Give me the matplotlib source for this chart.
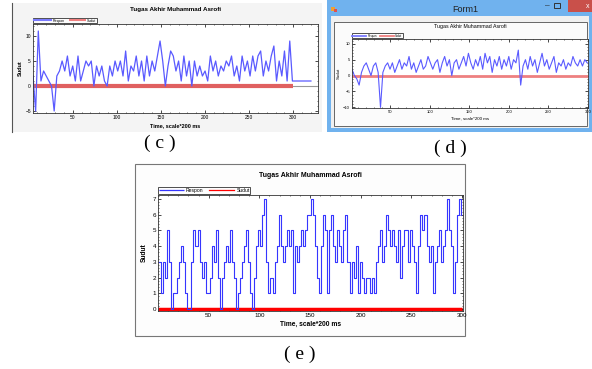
import matplotlib
matplotlib.use("Agg")
import matplotlib.pyplot as plt
import numpy as np
from matplotlib.patches import Rectangle
from matplotlib.ticker import AutoMinorLocator

W, H = 592, 369

TITLE = "Tugas Akhir Muhammad Asrofi"
XLABEL = "Time, scale*200 ms"
YLABEL = "Sudut"
LEGEND_LABELS = ["Respon", "Sudut"]

# panel (c): respon sampled every 3 steps from t=5, then flat tail
c_respon = [2, -5, 11, 1, 3, 2, 1, 0, -5, 2, 3, 5, 3, 6, 2, 4, 1, 6, 1, 3,
            5, 4, 5, 0, 4, 2, 4, 1, 0, 4, 2, 5, 3, 5, 2, 7, 1, 4, 3, 6,
            2, 5, 1, 6, 2, 5, 3, 6, 9, 5, 0, 4, 7, 6, 3, 5, 1, 6, 2, 5,
            0, 5, 2, 4, 2, 3, 1, 6, 3, 5, 2, 4, 3, 5, 4, 6, 2, 4, 1, 6,
            3, 5, 2, 6, 3, 6, 7, 2, 5, 3, 6, 8, 1, 5, 2, 7, 1, 9, 1]
c_tail_time = [320]
c_tail_value = [1]
c_sudut_end = 300

# panel (d): respon sampled every 3 steps from t=2
d_respon = [2, 0, -1, -3, 1, 3, 4, 2, 0, 3, 4, 1, -10, 1, 3, 4, 2, 4, 1, 3,
            5, 2, 4, 3, 6, 2, 4, 1, 3, 5, 2, 3, 6, 4, 2, 4, 5, 1, 4, 6,
            3, 5, 0, 4, 5, 2, 4, 6, 3, 7, 4, 2, 5, 3, 6, 2, 7, 4, 6, 1,
            5, 3, 6, 2, 5, 3, 6, 2, 5, 4, 8, -3, 3, 5, 2, 6, 3, 5, 1, 4,
            7, 3, 5, 2, 4, 6, 1, 4, 3, 5, 2, 4, 3, 6, 4, 3, 5, 3, 5, 4]

# panel (e): respon sampled every 2 steps from t=1
e_respon = [3, 1, 3, 2, 5, 3, 0, 1, 1, 2, 3, 4, 3, 1, 0, 0, 3, 5, 4, 5,
            3, 2, 3, 1, 1, 2, 4, 3, 5, 2, 0, 2, 3, 4, 3, 5, 3, 2, 0, 1,
            2, 3, 4, 5, 3, 1, 0, 2, 4, 5, 4, 6, 7, 3, 1, 2, 1, 3, 4, 6,
            4, 3, 4, 5, 4, 5, 1, 4, 3, 4, 5, 4, 5, 6, 6, 7, 6, 4, 2, 1,
            4, 6, 5, 1, 5, 6, 4, 3, 5, 4, 3, 5, 6, 3, 1, 3, 2, 4, 1, 3,
            2, 1, 2, 2, 1, 2, 1, 3, 4, 5, 3, 4, 6, 5, 4, 5, 4, 3, 5, 2,
            4, 5, 5, 3, 5, 4, 3, 1, 4, 6, 5, 6, 4, 3, 4, 1, 3, 4, 5, 3,
            4, 5, 7, 5, 4, 1, 3, 6, 7, 6]

c_time = np.arange(5, 5 + 3 * len(c_respon), 3)
d_time = np.arange(2, 2 + 3 * len(d_respon), 3)
e_time = np.arange(1, 1 + 2 * len(e_respon), 2)

plt.rcParams["font.family"] = ["Liberation Sans", "DejaVu Sans"]

fig = plt.figure(figsize=(W / 100, H / 100), dpi=100)
fig.patch.set_facecolor("white")


def rect(x, y, w, h, z=-5, **kw):
    fig.add_artist(Rectangle((x / W, 1 - (y + h) / H), w / W, h / H,
                             transform=fig.transFigure, zorder=z, **kw))


def axes_px(x0, y0, x1, y1):
    return fig.add_axes([x0 / W, 1 - y1 / H, (x1 - x0) / W, (y1 - y0) / H])


def style(ax, fs):
    ax.tick_params(direction="in", top=True, right=True, labelsize=fs,
                   length=2, width=0.5, pad=1.5)
    ax.tick_params(which="minor", direction="in", top=True, right=True,
                   length=1, width=0.4)
    ax.xaxis.set_minor_locator(AutoMinorLocator(5))
    ax.yaxis.set_minor_locator(AutoMinorLocator(5))
    for s in ax.spines.values():
        s.set_linewidth(0.6)
        s.set_color("#333333")


def legend(ax, fs, resp_color, sud_color, lw):
    ax.legend(LEGEND_LABELS, loc="lower left", bbox_to_anchor=(0, 1.01),
              ncol=2, fontsize=fs, frameon=True, fancybox=False,
              edgecolor="black", borderpad=0.15, handlelength=5,
              columnspacing=1.2, handletextpad=0.4, borderaxespad=0)
    leg = ax.get_legend()
    leg.get_frame().set_linewidth(0.6)
    for line, c in zip(leg.get_lines(), [resp_color, sud_color]):
        line.set_color(c)
        line.set_linewidth(lw)


# ---------- panel (c) ----------
rect(12, 3, 310, 129, facecolor="#f4f4f4", edgecolor="none")
fig.add_artist(plt.Line2D([12 / W, 12 / W], [1 - 3 / H, 1 - 132 / H],
                          transform=fig.transFigure, color="#555555", lw=0.8,
                          zorder=-4))
ax_c = axes_px(33, 24, 318, 113)
ax_c.axhline(0, color="#999999", lw=0.8)
ax_c.plot([5, c_sudut_end], [0, 0], color="#e06060", lw=3, solid_capstyle="butt")
ax_c.plot(np.concatenate([c_time, [c_time[-1]], c_tail_time]),
          c_respon + [c_tail_value[0]] + c_tail_value,
          color="#5a5aff", lw=0.9)
ax_c.set_xlim(5, 328)
ax_c.set_ylim(-5.4, 12.4)
ax_c.set_xticks([50, 100, 150, 200, 250, 300])
ax_c.set_yticks([-5, 0, 5, 10])
style(ax_c, 3.5)
ax_c.set_title(TITLE, fontsize=4.5, fontweight="bold", pad=9)
ax_c.set_xlabel(XLABEL, fontsize=4, fontweight="bold", labelpad=2)
ax_c.set_ylabel(YLABEL, fontsize=4, fontweight="bold", labelpad=2)
legend(ax_c, 2.5, "#7a7aff", "#f08080", 1.5)

# ---------- panel (d) ----------
rect(327, 0, 265, 132, facecolor="#70b2ee", edgecolor="none")
rect(331, 16, 258, 112, facecolor="#f0f0f0", edgecolor="none")
rect(334, 22, 253, 104, facecolor="#fbfbfb", edgecolor="#666666", lw=0.7)
rect(568, 0, 24, 12, facecolor="#c9504a", edgecolor="none")
rect(331, 7, 4, 4, facecolor="#f0a030", edgecolor="none")
rect(334, 9, 3, 3, facecolor="#e05050", edgecolor="none")
fig.text(465 / W, 1 - 9 / H, "Form1", fontsize=6.5, color="#222222",
         ha="center", va="center")
fig.text(547 / W, 1 - 6 / H, "\u2013", fontsize=6, color="#222222",
         ha="center", va="center")
rect(554, 3, 6, 5, facecolor="none", edgecolor="#333333", lw=0.7)
fig.text(588 / W, 1 - 6 / H, "x", fontsize=5, color="white",
         ha="center", va="center")
ax_d = axes_px(352, 39, 588, 108)
ax_d.axhline(0, color="#999999", lw=0.8)
ax_d.axhline(0, color="#ee8080", lw=2)
ax_d.plot(d_time, d_respon, color="#5a5aff", lw=0.8)
ax_d.set_xlim(2, 300)
ax_d.set_ylim(-10.2, 11.5)
ax_d.set_xticks([50, 100, 150, 200, 250, 300])
ax_d.set_yticks([-10, -5, 0, 5, 10])
style(ax_d, 3)
ax_d.set_title(TITLE, fontsize=3.8, pad=8)
ax_d.set_xlabel(XLABEL, fontsize=3.2, labelpad=1.5)
ax_d.set_ylabel(YLABEL, fontsize=3.2, labelpad=1.5)
legend(ax_d, 2, "#7a7aff", "#f08080", 1.3)

# ---------- panel (e) ----------
rect(135, 164, 330, 172, facecolor="#fdfdfd", edgecolor="#777777", lw=0.8)
ax_e = axes_px(158, 195, 463, 311)
ax_e.plot([0, 300], [0, 0], color="#ff0000", lw=2.5, solid_capstyle="butt")
ax_e.plot(e_time, e_respon, color="#3636ff", lw=0.8, drawstyle="steps-post")
ax_e.set_xlim(0, 301)
ax_e.set_ylim(-0.13, 7.25)
ax_e.set_xticks([50, 100, 150, 200, 250, 300])
ax_e.set_yticks(range(0, 8))
style(ax_e, 4.5)
ax_e.set_title(TITLE, fontsize=5, fontweight="bold", pad=13)
ax_e.set_xlabel(XLABEL, fontsize=4.8, fontweight="bold", labelpad=2)
ax_e.set_ylabel(YLABEL, fontsize=4.8, fontweight="bold", labelpad=3)
legend(ax_e, 3.6, "#3636ff", "#ff0000", 0.9)

# ---------- panel captions ----------
for x, y, s in [(160, 143, "( c )"), (450, 148, "( d )"), (300, 354, "( e )")]:
    fig.text(x / W, 1 - y / H, s, fontsize=14, family="Liberation Serif",
             ha="center", va="center")

fig.savefig("out.png", dpi=100)
